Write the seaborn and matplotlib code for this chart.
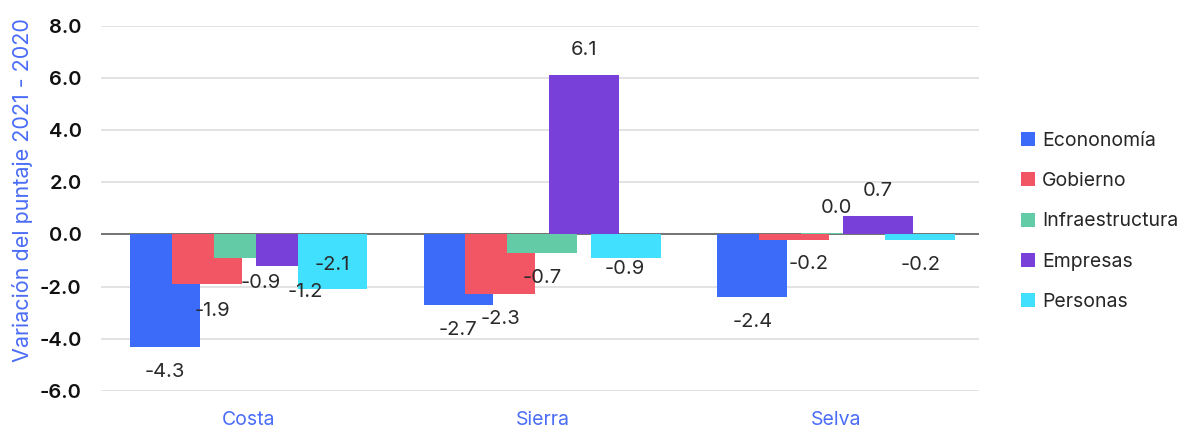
import matplotlib
matplotlib.use("Agg")
import pandas as pd
import matplotlib.pyplot as plt
import seaborn as sns

# Data
regions = ["Costa", "Sierra", "Selva"]
series = ["Econonomía", "Gobierno", "Infraestructura", "Empresas", "Personas"]
economia = [-4.3, -2.7, -2.4]
gobierno = [-1.9, -2.3, -0.2]
infraestructura = [-0.9, -0.7, 0.04]
empresas = [-1.2, 6.1, 0.7]
personas = [-2.1, -0.9, -0.2]
y_ticks = [-6, -4, -2, 0, 2, 4, 6, 8]

colors = ["#3C6BF9", "#F25564", "#63CBA6", "#7840D9", "#40E0FE"]
axis_blue = "#4A6CF7"

# label nudges in pixels (dx, dy) where the reference deviates from the default
label_nudge = {
    ("Costa", "Gobierno"): (6, -27),
    ("Costa", "Infraestructura"): (12, -25),
    ("Costa", "Empresas"): (15, -26),
    ("Costa", "Personas"): (0, 24),
    ("Sierra", "Personas"): (-2, -11),
    ("Selva", "Gobierno"): (14, -24),
}

df = pd.DataFrame({
    "region": regions * len(series),
    "serie": [s for s in series for _ in regions],
    "valor": economia + gobierno + infraestructura + empresas + personas,
})

sns.set_theme(style="white")
plt.rcParams["font.family"] = ["Inter", "DejaVu Sans"]

fig = plt.figure(figsize=(11.82, 4.28), dpi=100)
ax = fig.add_axes([0.0855, 0.0864, 0.7428, 0.8536])

sns.barplot(data=df, x="region", y="valor", hue="serie", hue_order=series,
            palette=dict(zip(series, colors)), width=0.714, saturation=1,
            errorbar=None, ax=ax)

# widen bars so they overlap like the original
bar_w = 0.238
for p in ax.patches:
    c = p.get_x() + p.get_width() / 2
    p.set_width(bar_w)
    p.set_x(c - bar_w / 2)
    p.set_edgecolor("none")

px = 0.72  # points per pixel at 100 dpi
for cont, name in zip(ax.containers, series):
    for bar, reg in zip(cont, regions):
        v = bar.get_height()
        xc = bar.get_x() + bar.get_width() / 2
        dx, dy = label_nudge.get((reg, name), (0, 25 if v >= 0 else -25))
        ax.annotate(f"{v:.1f}", (xc, v), xytext=(dx * px, dy * px),
                    textcoords="offset points", ha="center", va="center",
                    fontsize=14.5, color="#2a2a2a")

ax.axhline(0, color="#555555", lw=1.1, zorder=0.8)
ax.set_ylim(-6, 8)
ax.set_xlim(-0.502, 2.486)
ax.set_yticks(y_ticks)
ax.set_yticklabels([f"{t:.1f}" for t in y_ticks], fontsize=14.5,
                   fontweight="semibold", color="#111111")
ax.grid(axis="y", color="#E3E3E3", lw=1.4)
ax.set_axisbelow(True)
for s in ax.spines.values():
    s.set_visible(False)
ax.tick_params(axis="both", length=0)
ax.tick_params(axis="y", pad=14)
ax.tick_params(axis="x", pad=14.5, labelsize=14, labelcolor=axis_blue)

ax.set_xlabel("")
ax.set_ylabel("Variación del puntaje 2021 - 2020", fontsize=15.5, color=axis_blue)
ax.yaxis.set_label_coords(-0.077, 0.55)

handles, labels = ax.get_legend_handles_labels()
ax.get_legend().remove()
fig.legend(handles, labels, loc="center left", bbox_to_anchor=(0.8638, 0.4825),
           frameon=False, fontsize=14, handlelength=0.72, handleheight=0.72,
           handletextpad=0.35, labelspacing=1.15, borderpad=0, borderaxespad=0)

plt.savefig("out.png", dpi=100)
